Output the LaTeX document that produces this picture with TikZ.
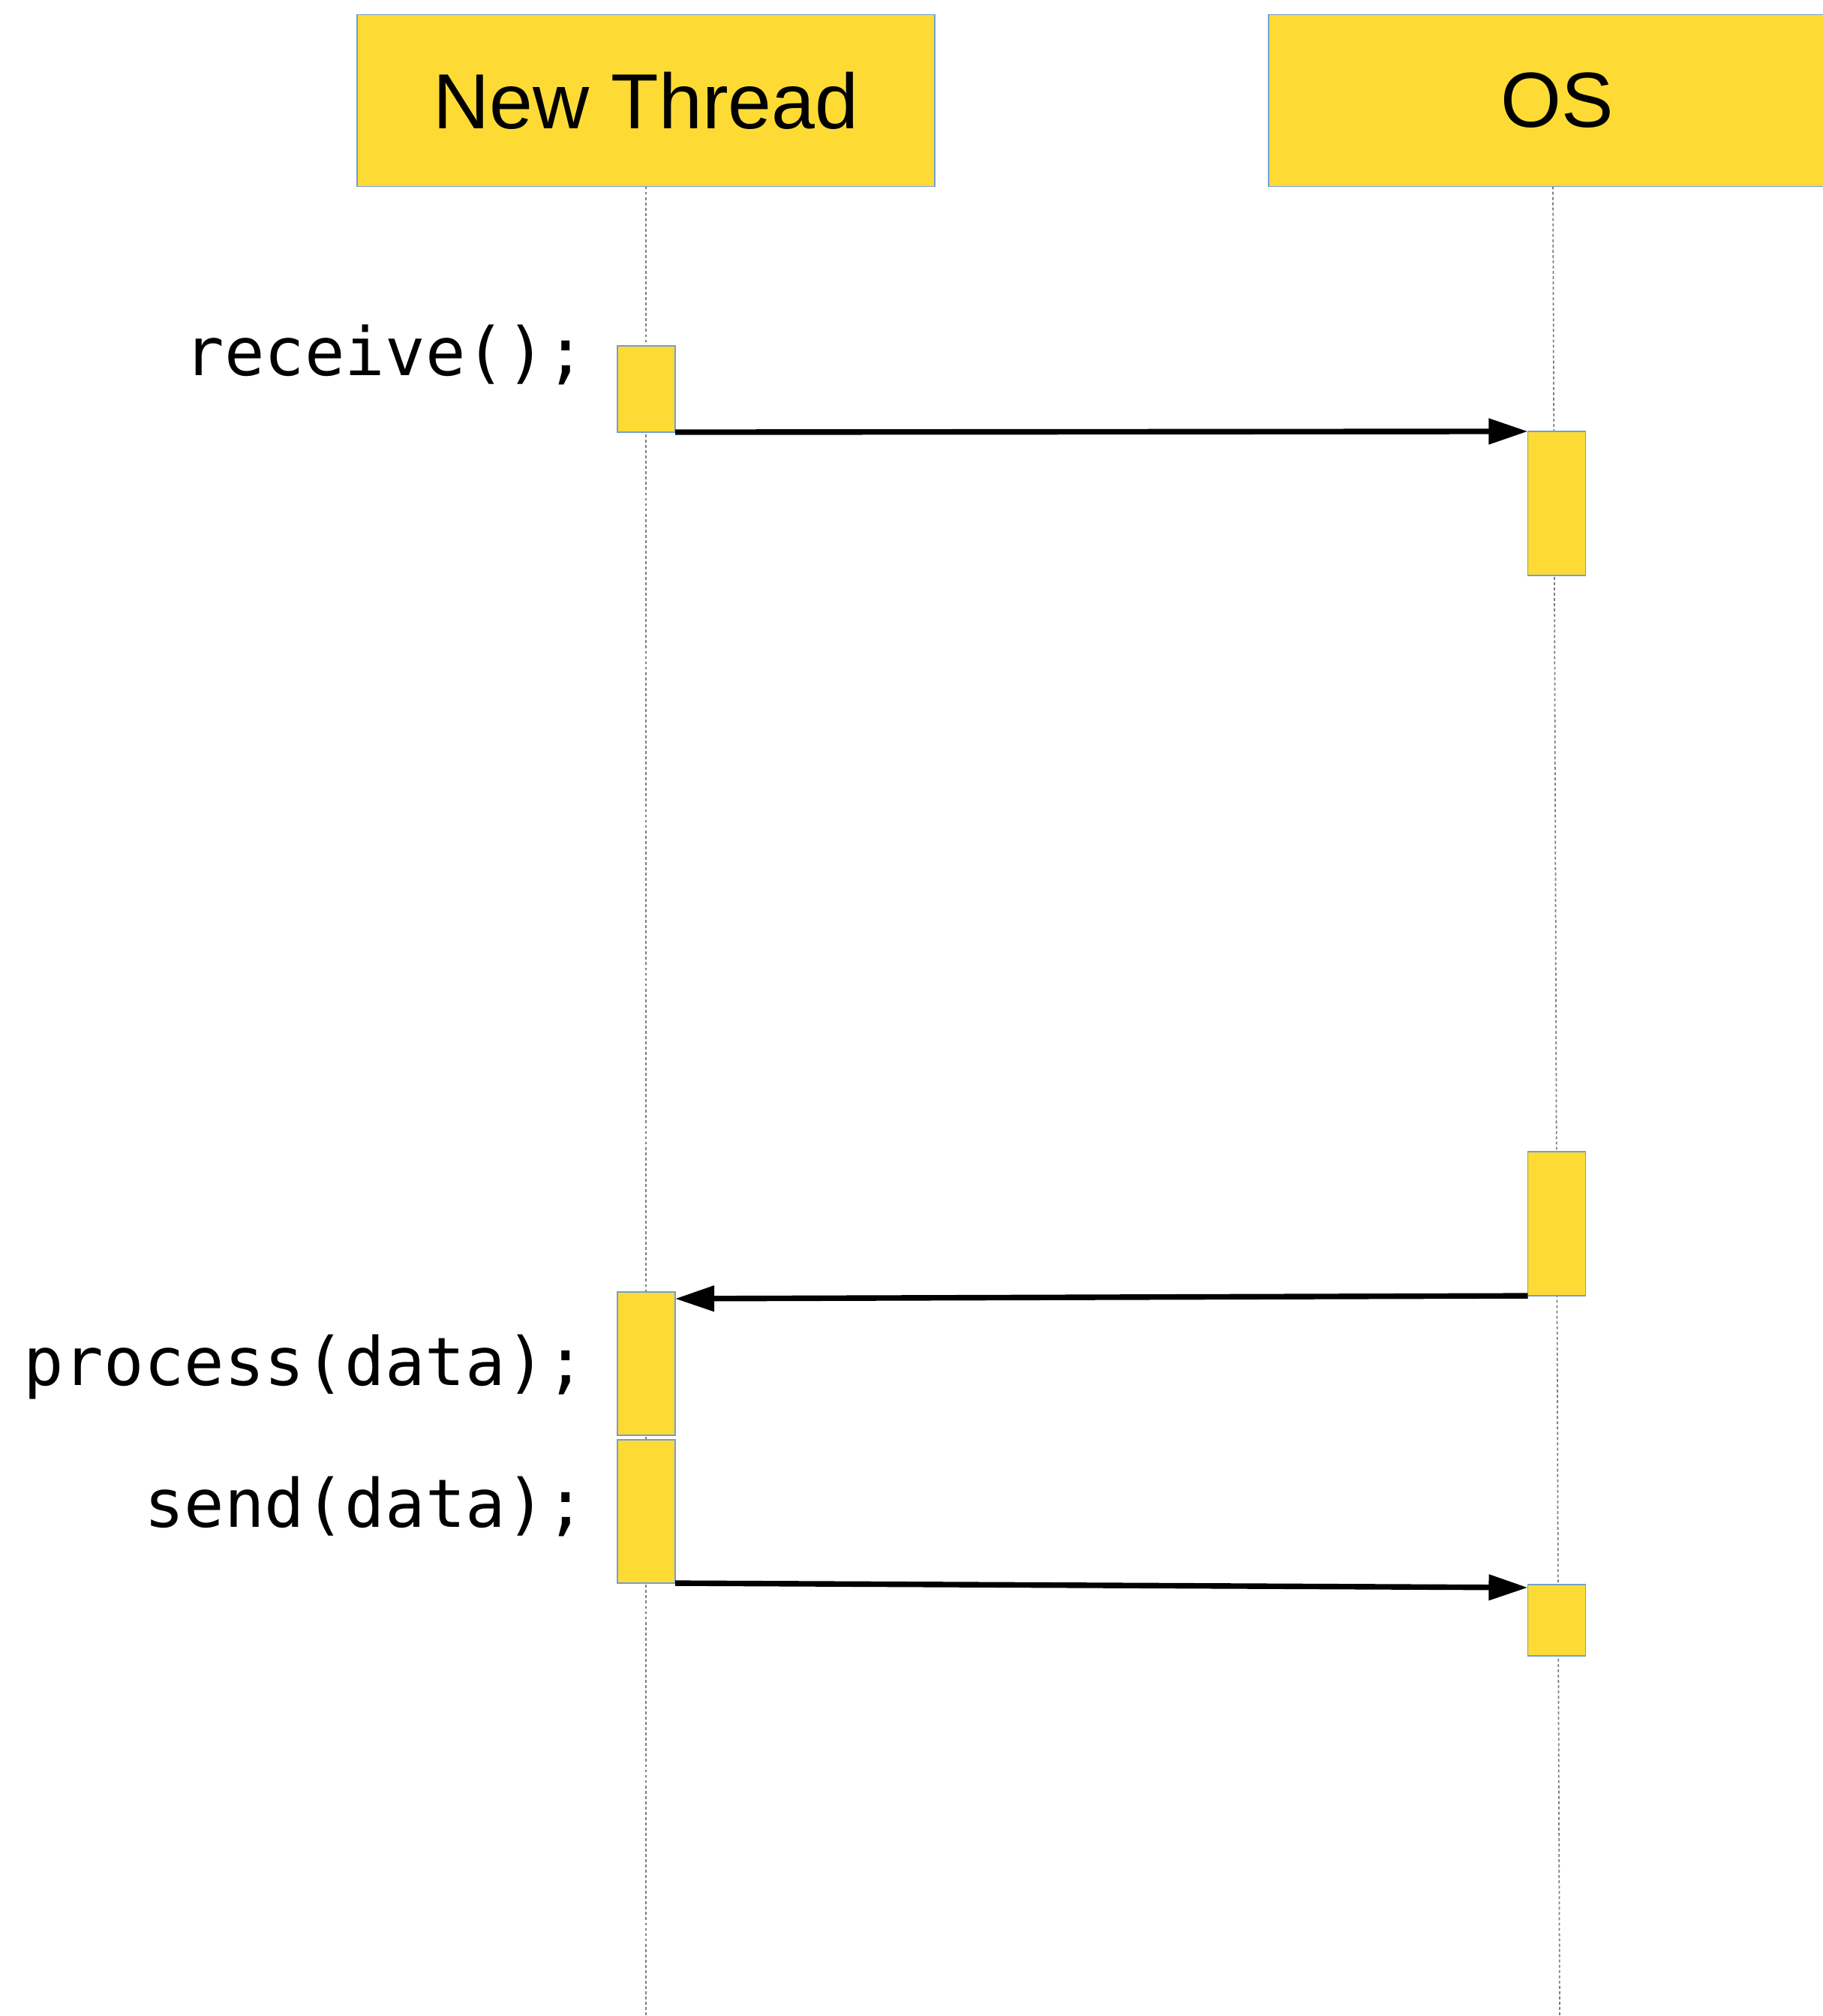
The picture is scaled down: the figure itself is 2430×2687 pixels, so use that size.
\documentclass[tikz,border=0pt]{standalone}
\usepackage{fontspec}
\setmainfont{Liberation Sans}
\setmonofont{DejaVu Sans Mono}
\usetikzlibrary{arrows.meta, positioning, calc}
\definecolor{boxyellow}{RGB}{253,219,52}
\definecolor{boxborder}{RGB}{114,159,207}
\definecolor{lifegray}{RGB}{128,128,128}

\begin{document}
\begin{tikzpicture}[x=0.01cm, y=-0.01cm,
        actor/.style={rectangle, fill=boxyellow, draw=boxborder, line width=0.5pt, minimum width=7.7cm,
                minimum height=2.29cm, inner sep=0pt, outer sep=0pt, font=\fontsize{29.6}{34}\selectfont},
        activation/.style={rectangle, fill=boxyellow, draw=boxborder, line width=0.5pt, minimum width=0.77cm,
                inner sep=0pt, outer sep=0pt},
        call/.style={line width=2.1pt, -{Triangle[length=14.8pt, width=9.4pt]}},
        lifeline/.style={draw=lifegray, line width=0.5pt, dash pattern=on 1.1pt off 0.9pt},
        code/.style={anchor=base east, inner sep=0pt, font=\ttfamily\fontsize{25.3}{30}\selectfont}]
        \fill[white] (0,0) rectangle (2430,2687);
        \useasboundingbox (0,0) rectangle (2430,2687);

        % Actors
        \node[actor] (thread) at (861,134) {New Thread};
        \node[actor] (os) at (2076,134) {OS};

        % Lifelines
        \coordinate (threadend) at (861,2687);
        \coordinate (osend) at (2079,2687);
        \draw[lifeline] (thread.south) -- (threadend);
        \draw[lifeline] ([xshift=-0.06cm]os.south) -- (osend);

        % Activations
        \foreach \name/\x/\y/\h in {recvbox/861.5/518.5/1.15, oswait/2075/671/1.92, oswake/2075/1631/1.92,
                procbox/861.5/1817.5/1.91, sendbox/861.5/2014.5/1.91, osrecv/2075/2159.5/0.95} {
        \node[activation, minimum height=\h cm] (\name) at (\x,\y) {};
        }

        % Calls
        \draw[call] (recvbox.south east) -- (oswait.north west);
        \draw[call] (oswake.south west) -- ([yshift=-0.09cm]procbox.north east);
        \draw[call] (sendbox.south east) -- ([yshift=-0.04cm]osrecv.north west);

        % Code labels
        \node[code] (recvlabel) at (782,500) {receive();};
        \node[code] (proclabel) at (782,1846) {process(data);};
        \node[code] (sendlabel) at (782,2035) {send(data);};
    \end{tikzpicture}
\end{document}
